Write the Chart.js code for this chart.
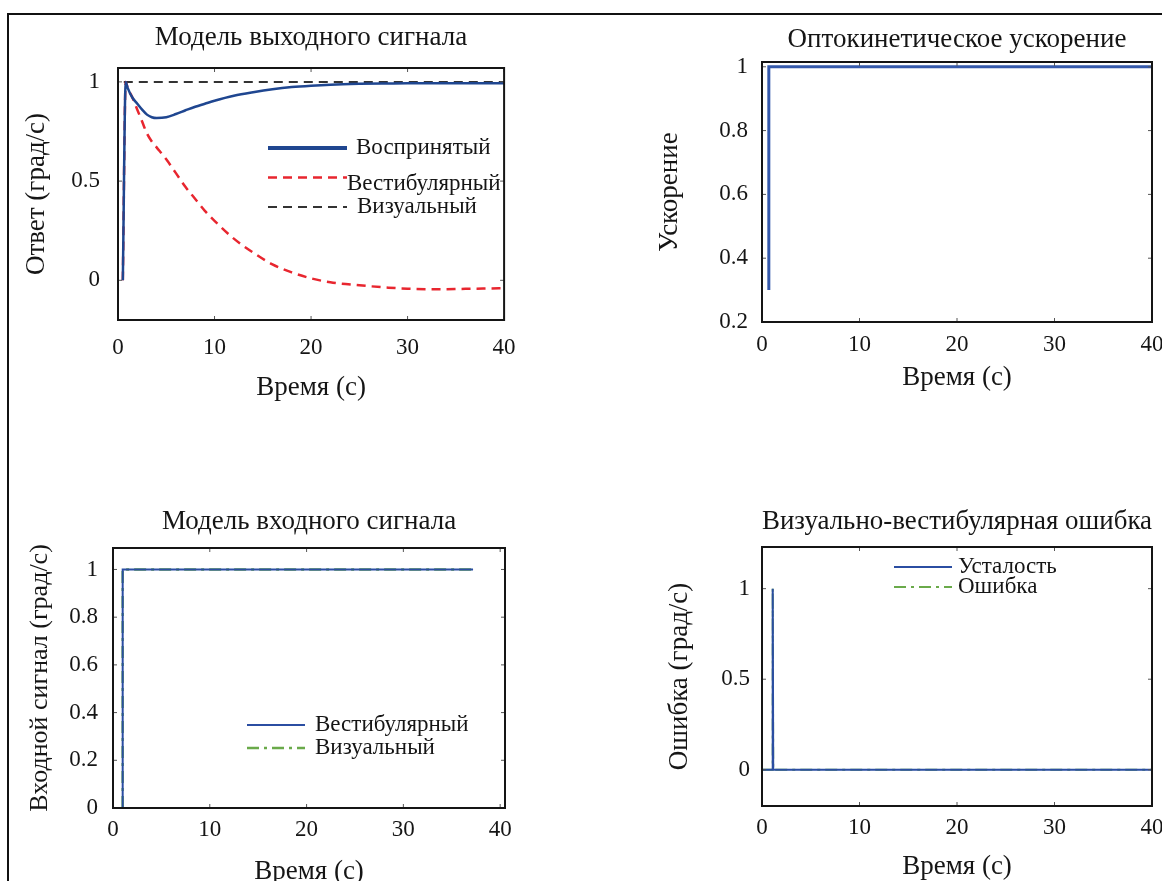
<!DOCTYPE html>
<html><head><meta charset="utf-8">
<script src="https://cdn.jsdelivr.net/npm/chart.js@4.4.1/dist/chart.umd.min.js"></script>
<style>
html,body{margin:0;padding:0;background:#fff;overflow:hidden;width:1162px;height:881px;position:relative;}
#frame{position:absolute;left:7px;top:13px;width:1200px;height:900px;border-left:2px solid #111;border-top:2px solid #111;}
canvas{position:absolute;}
</style></head><body>
<div id="frame"></div>
<canvas id="c1"></canvas>
<canvas id="c2"></canvas>
<canvas id="c3"></canvas>
<canvas id="c4"></canvas>
<script>
// ---------- data ----------
const timeTicks = [0, 10, 20, 30, 40];

// Chart 1: output signal model
const outTime      = [0.5, 0.8, 1, 1.5, 2, 2.5, 3, 3.5, 4, 5, 6, 7, 8, 9, 10, 12, 14, 16, 18, 20, 22, 25, 28, 30, 33, 36, 40];
const perceivedOut = [0, 1.0, 0.97, 0.92, 0.89, 0.86, 0.835, 0.822, 0.818, 0.822, 0.838, 0.857, 0.875, 0.89, 0.905, 0.93, 0.948, 0.963, 0.974, 0.981, 0.986, 0.99, 0.992, 0.993, 0.993, 0.993, 0.993];
const vestibOut    = [0, 1.0, 0.97, 0.92, 0.86, 0.8, 0.74, 0.7, 0.67, 0.61, 0.54, 0.47, 0.41, 0.35, 0.3, 0.21, 0.14, 0.08, 0.04, 0.01, -0.01, -0.025, -0.037, -0.042, -0.045, -0.043, -0.04];
const visualTime   = [0.6, 40];
const visualOut    = [1.0, 1.0];
const outTicks     = [0, 0.5, 1];

// Chart 2: optokinetic acceleration
const accelTime  = [0.7, 0.7, 40];
const accel      = [0.3, 1.0, 1.0];
const accelTicks = [0.2, 0.4, 0.6, 0.8, 1];

// Chart 3: input signal model
const inTime   = [1.0, 1.0, 37.2];
const vestibIn = [0, 1, 1];
const visualIn = [0, 1, 1];
const inTicks  = [0, 0.2, 0.4, 0.6, 0.8, 1];

// Chart 4: visual-vestibular error
const errTime   = [0, 1.1, 1.1, 1.15, 40];
const fatigue   = [0, 0, 1, 0, 0];
const errorVal  = [0, 0, 1, 0, 0];
const errTicks  = [0, 0.5, 1];

const pts = (xs, ys) => xs.map((x, i) => ({x, y: ys[i]}));

// ---------- plugins ----------
const framePlugin = {
  id: 'frameBox',
  afterDraw(chart) {
    const {ctx, chartArea: a, scales} = chart;
    ctx.save();
    ctx.strokeStyle = '#555'; ctx.lineWidth = 1;
    scales.x.ticks.forEach(t => {
      const px = scales.x.getPixelForValue(t.value);
      ctx.beginPath(); ctx.moveTo(px, a.bottom); ctx.lineTo(px, a.bottom - 4);
      ctx.moveTo(px, a.top); ctx.lineTo(px, a.top + 4); ctx.stroke();
    });
    scales.y.ticks.forEach(t => {
      const py = scales.y.getPixelForValue(t.value);
      ctx.beginPath(); ctx.moveTo(a.left, py); ctx.lineTo(a.left + 4, py);
      ctx.moveTo(a.right, py); ctx.lineTo(a.right - 4, py); ctx.stroke();
    });
    ctx.strokeStyle = '#151515'; ctx.lineWidth = 2;
    ctx.strokeRect(a.left, a.top, a.right - a.left, a.bottom - a.top);
    ctx.restore();
  }
};
const legendPlugin = {
  id: 'inLegend',
  afterDatasetsDraw(chart, args, opts) {
    if (!opts || !opts.items) return;
    const {ctx, chartArea: a} = chart;
    ctx.save();
    opts.items.forEach((it, i) => {
      const ds = chart.data.datasets[it.ds];
      const y = a.top + opts.y + i * opts.row;
      const x0 = a.left + opts.x;
      ctx.beginPath();
      ctx.setLineDash(ds.borderDash || []);
      ctx.strokeStyle = ds.borderColor;
      ctx.lineWidth = it.lw || ds.borderWidth;
      ctx.moveTo(x0, y); ctx.lineTo(x0 + opts.len, y); ctx.stroke();
      ctx.setLineDash([]);
      ctx.fillStyle = '#151515'; ctx.font = opts.font; ctx.textBaseline = 'middle'; ctx.textAlign = 'left';
      ctx.fillText(ds.label, x0 + opts.len + (it.gap !== undefined ? it.gap : opts.gap), y + (it.dy || 0));
    });
    ctx.restore();
  }
};

const FONT = '"Liberation Serif", "Times New Roman", serif';
const TXT = '#151515';
const fmt = v => String(Math.round(v * 10) / 10);

function make(id, box, ax, datasets, legend) {
  const cv = document.getElementById(id);
  cv.width = box.w; cv.height = box.h;
  cv.style.left = box.l + 'px'; cv.style.top = box.t + 'px';
  cv.style.width = box.w + 'px'; cv.style.height = box.h + 'px';
  return new Chart(cv, {
    type: 'scatter',
    data: {datasets},
    options: {
      responsive: false, animation: false, devicePixelRatio: 1,
      layout: {padding: {left: 0, top: 0, right: box.padR, bottom: 0}},
      elements: {point: {radius: 0}, line: {tension: 0}},
      plugins: {
        legend: {display: false}, tooltip: {enabled: false},
        title: {display: true, text: ax.title, fullSize: false, color: TXT,
                font: {family: FONT, size: 27, weight: 'normal'},
                padding: {top: ax.titlePad[0], bottom: ax.titlePad[1]}},
        inLegend: legend
      },
      scales: {
        x: {
          type: 'linear', min: 0, max: ax.xMax,
          grid: {display: false, drawTicks: false},
          border: {display: false},
          afterBuildTicks: s => { s.ticks = timeTicks.map(v => ({value: v})); },
          afterFit: s => { s.height = ax.xH; },
          ticks: {padding: ax.xTickPad, color: TXT, font: {family: FONT, size: 23}, maxRotation: 0, callback: fmt},
          title: {display: true, text: 'Время (с)', color: TXT, font: {family: FONT, size: 27},
                  padding: {top: 0, bottom: ax.xTitlePad}}
        },
        y: {
          type: 'linear', min: ax.yMin, max: ax.yMax,
          grid: {display: false, drawTicks: false},
          border: {display: false},
          afterBuildTicks: s => { s.ticks = ax.yTicks.map(v => ({value: v})); },
          afterFit: s => { s.width = ax.yW; },
          ticks: {padding: ax.yTickPad, color: TXT, font: {family: FONT, size: 23}, callback: fmt},
          title: {display: true, text: ax.yTitle, color: TXT, font: {family: FONT, size: ax.yTitleSize || 27},
                  padding: {top: ax.yTitlePad, bottom: 0}}
        }
      }
    },
    plugins: [framePlugin, legendPlugin]
  });
}

// Chart 1
make('c1', {l: 12, t: 14, w: 518, h: 396, padR: 20},
  {title: 'Модель выходного сигнала', titlePad: [8.0, 13.6], xMax: 40, xH: 90, xTickPad: 14.4, xTitlePad: 5.8,
   yMin: -0.2, yMax: 1.07, yTicks: outTicks, yW: 106, yTickPad: 18, yTitle: 'Ответ (град/с)', yTitlePad: 8.8},
  [
    {label: 'Воспринятый', data: pts(outTime, perceivedOut), showLine: true, borderColor: '#1f4690', borderWidth: 2.5, cubicInterpolationMode: 'monotone'},
    {label: 'Вестибулярный', data: pts(outTime, vestibOut), showLine: true, borderColor: '#e8262f', borderWidth: 2.5, borderDash: [9, 6], cubicInterpolationMode: 'monotone'},
    {label: 'Визуальный', data: pts(visualTime, visualOut), showLine: true, borderColor: '#333333', borderWidth: 2, borderDash: [9, 6]}
  ],
  {x: 150, y: 80, row: 29.5, len: 79, gap: 9, font: '23px ' + FONT,
   items: [{ds: 0, lw: 4, gap: 9}, {ds: 1, gap: 0, dy: 6}, {ds: 2, gap: 10}]}
);

// Chart 2
make('c2', {l: 640, t: 14, w: 535, h: 386, padR: 23},
  {title: 'Оптокинетическое ускорение', titlePad: [9.8, 5.8], xMax: 40, xH: 78, xTickPad: 9.2, xTitlePad: 5.8,
   yMin: 0.2, yMax: 1.015, yTicks: accelTicks, yW: 122, yTickPad: 14, yTitle: 'Ускорение', yTitlePad: 13.8},
  [
    {label: 'Ускорение', data: pts(accelTime, accel), showLine: true, borderColor: '#3559ab', borderWidth: 3}
  ],
  null
);

// Chart 3
make('c3', {l: 12, t: 480, w: 518, h: 410, padR: 25},
  {title: 'Модель входного сигнала', titlePad: [25.8, 9.8], xMax: 40.5, xH: 82, xTickPad: 8.2, xTitlePad: 1.8,
   yMin: 0, yMax: 1.09, yTicks: inTicks, yW: 101, yTickPad: 15, yTitle: 'Входной сигнал (град/с)', yTitleSize: 26, yTitlePad: 12.4},
  [
    {label: 'Вестибулярный', data: pts(inTime, vestibIn), showLine: true, borderColor: '#2b4ea2', borderWidth: 2},
    {label: 'Визуальный', data: pts(inTime, visualIn), showLine: true, borderColor: '#6aaa4a', borderWidth: 2.5, borderDash: [12, 5, 3, 5]}
  ],
  {x: 134, y: 177, row: 23, len: 58, gap: 10, font: '23px ' + FONT, items: [{ds: 0}, {ds: 1}]}
);

// Chart 4
make('c4', {l: 640, t: 480, w: 535, h: 410, padR: 23},
  {title: 'Визуально-вестибулярная ошибка', titlePad: [25.8, 8.8], xMax: 40, xH: 84, xTickPad: 8.2, xTitlePad: 6.8,
   yMin: -0.2, yMax: 1.23, yTicks: errTicks, yW: 122, yTickPad: 12, yTitle: 'Ошибка (град/с)', yTitlePad: 23.8},
  [
    {label: 'Усталость', data: pts(errTime, fatigue), showLine: true, borderColor: '#2b4ea2', borderWidth: 2},
    {label: 'Ошибка', data: pts(errTime, errorVal), showLine: true, borderColor: '#6aaa4a', borderWidth: 2, borderDash: [12, 5, 3, 5]}
  ],
  {x: 132, y: 20, row: 20, len: 58, gap: 6, font: '23px ' + FONT, items: [{ds: 0}, {ds: 1}]}
);
</script>
</body></html>
